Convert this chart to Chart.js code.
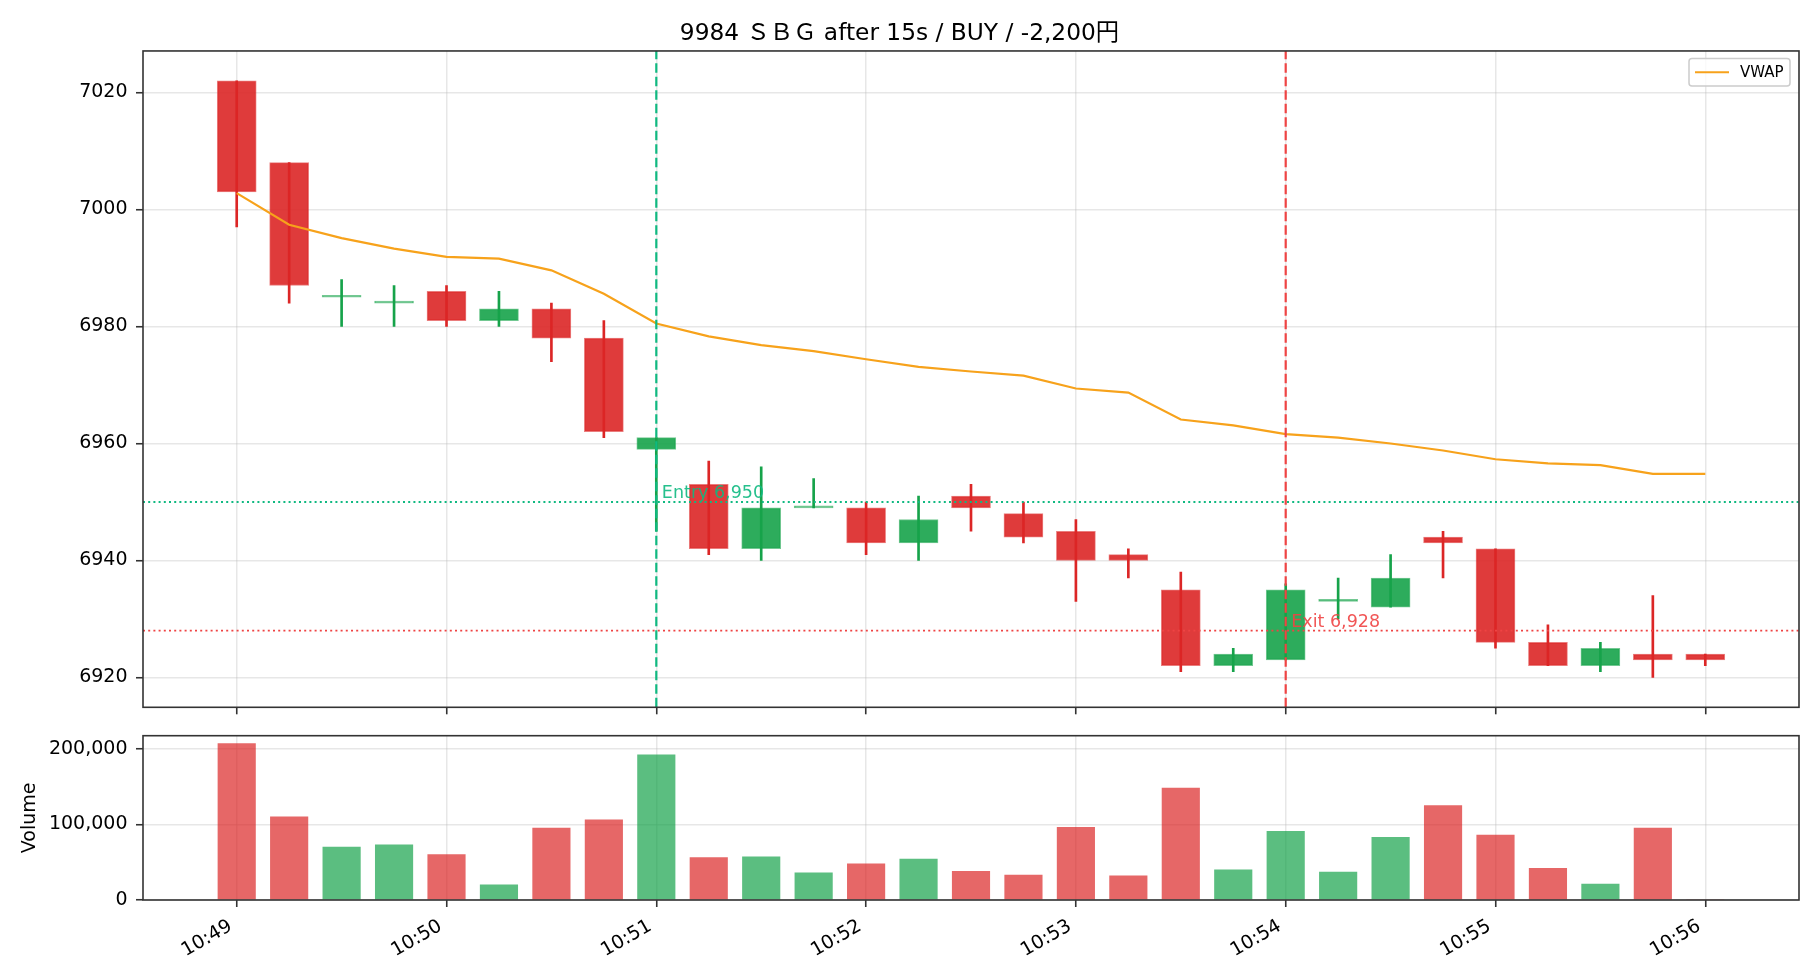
<!DOCTYPE html>
<html>
<head>
<meta charset="utf-8">
<script src="https://cdn.jsdelivr.net/npm/chart.js@4.4.1/dist/chart.umd.min.js"></script>
<style>
  html, body { margin: 0; padding: 0; background: #fff; }
  #wrap { position: relative; width: 1820px; height: 980px; }
  canvas { position: absolute; left: 0; top: 0; }
</style>
</head>
<body>
<div id="wrap">
  <canvas id="price" width="1820" height="980"></canvas>
  <canvas id="vol" width="1820" height="980"></canvas>
</div>
<script>
// 15 second candles
const times = ['10:49:00','10:49:15','10:49:30','10:49:45','10:50:00','10:50:15','10:50:30','10:50:45',
  '10:51:00','10:51:15','10:51:30','10:51:45','10:52:00','10:52:15','10:52:30','10:52:45',
  '10:53:00','10:53:15','10:53:30','10:53:45','10:54:00','10:54:15','10:54:30','10:54:45',
  '10:55:00','10:55:15','10:55:30','10:55:45','10:56:00'];
const opens  = [7022,7008,6985,6984,6986,6981,6983,6978,6959,6953,6942,6949,6949,6943,6951,6948,
  6945,6941,6935,6922,6923,6933,6932,6944,6942,6926,6922,6924,6924];
const highs  = [7022,7008,6988,6987,6987,6986,6984,6981,6961,6957,6956,6954,6950,6951,6953,6950,
  6947,6942,6938,6925,6936,6937,6941,6945,6942,6929,6926,6934,6924];
const lows   = [6997,6984,6980,6980,6980,6980,6974,6961,6945,6941,6940,6949,6941,6940,6945,6943,
  6933,6937,6921,6921,6923,6930,6932,6937,6925,6922,6921,6920,6922];
const closes = [7003,6987,6985,6984,6981,6983,6978,6962,6961,6942,6949,6949,6943,6947,6949,6944,
  6940,6940,6922,6924,6935,6933,6937,6943,6926,6922,6925,6923,6923];
const volumes = [207000,110000,70000,73000,60000,20000,95000,106000,192000,56000,57000,36000,48000,54000,
  38000,33000,96000,32000,148000,40000,91000,37000,83000,125000,86000,42000,21000,95000,0];
const vwap = [7002.8,6997.4,6995.1,6993.3,6991.9,6991.6,6989.6,6985.6,6980.5,6978.3,6976.8,6975.8,
  6974.4,6973.1,6972.3,6971.6,6969.4,6968.7,6964.1,6963.1,6961.6,6961.0,6960.0,6958.8,6957.3,
  6956.6,6956.3,6954.8,6954.8];

const tickLabels = ['10:49','10:50','10:51','10:52','10:53','10:54','10:55','10:56'];
const priceTicks = [6920, 6940, 6960, 6980, 7000, 7020];
const volumeTicks = [0, 100000, 200000];

const entry = { time: '10:51:00', price: 6950, label: ' Entry 6,950' };
const exit  = { time: '10:54:00', price: 6928, label: ' Exit 6,928' };
const titleText = '9984 ＳＢＧ after 15s / BUY / -2,200円';

const FONT = '"DejaVu Sans", "Noto Sans CJK JP", sans-serif';
const RED = '#dc2626', GREEN = '#16a34a', ORANGE = '#f7a21b';
const ENTRY_C = '#10b981', EXIT_C = '#ef4444';
const GRID = 'rgba(176,176,176,0.3)', SPINE = '#333333';

function toSec(s) {
  const p = s.split(':').map(Number);
  return p[0] * 3600 + p[1] * 60 + (p[2] || 0);
}
function alpha(hex, a) {
  const n = parseInt(hex.slice(1), 16);
  return `rgba(${n >> 16},${(n >> 8) & 255},${n & 255},${a})`;
}

const secs = times.map(toSec);
const tickSecs = tickLabels.map(toSec);
const up = closes.map((c, i) => c >= opens[i]);

// axis limits like matplotlib autoscale (5% margins)
const xMin = secs[0] - 26.8, xMax = secs[secs.length - 1] + 26.8;
const pLo = Math.min(...lows), pHi = Math.max(...highs);
const yMin = pLo - (pHi - pLo) * 0.05, yMax = pHi + (pHi - pLo) * 0.05;
const vMax = Math.max(...volumes) * 1.05;

Chart.defaults.font.family = FONT;
Chart.defaults.animation = false;
Chart.defaults.events = [];

const frame = {
  id: 'frame',
  afterDraw(chart) {
    const { ctx, chartArea: a } = chart;
    ctx.save();
    ctx.strokeStyle = SPINE;
    ctx.lineWidth = 1.6;
    ctx.strokeRect(a.left, a.top, a.right - a.left, a.bottom - a.top);
    ctx.restore();
  }
};

function xAxis(showLabels, height) {
  return {
    type: 'linear', min: xMin, max: xMax, offset: false,
    afterBuildTicks: s => { s.ticks = tickSecs.map(v => ({ value: v })); },
    afterFit: s => { s.height = height; },
    ticks: {
      display: showLabels, autoSkip: false, minRotation: 30, maxRotation: 30,
      padding: 8, labelOffset: -6, color: '#000', font: { size: 19 },
      callback: (v, i) => tickLabels[i]
    },
    grid: { offset: false, color: GRID, lineWidth: 1.5, tickColor: SPINE, tickWidth: 1.6, tickLength: 7 },
    border: { display: false }
  };
}

const markers = {
  id: 'markers',
  afterDatasetsDraw(chart) {
    const { ctx, scales: { x, y } } = chart;
    ctx.save();
    ctx.font = '17.5px ' + FONT;
    ctx.textBaseline = 'alphabetic';
    ctx.textAlign = 'left';
    [[entry, ENTRY_C], [exit, EXIT_C]].forEach(([m, c]) => {
      ctx.fillStyle = alpha(c, 0.9);
      ctx.fillText(m.label, x.getPixelForValue(toSec(m.time)), y.getPixelForValue(m.price) - 3.5);
    });
    // legend
    const a = chart.chartArea;
    const bx = a.right - 110, by = a.top + 7.6, bw = 101, bh = 27.4;
    ctx.beginPath();
    ctx.roundRect(bx, by, bw, bh, 3);
    ctx.fillStyle = 'rgba(255,255,255,0.8)';
    ctx.fill();
    ctx.strokeStyle = '#cccccc';
    ctx.lineWidth = 1.5;
    ctx.stroke();
    ctx.beginPath();
    ctx.moveTo(bx + 6, by + bh / 2);
    ctx.lineTo(bx + 40, by + bh / 2);
    ctx.strokeStyle = ORANGE;
    ctx.lineWidth = 2.2;
    ctx.stroke();
    ctx.fillStyle = '#000';
    ctx.font = '15px ' + FONT;
    ctx.textBaseline = 'middle';
    ctx.fillText('VWAP', bx + 51, by + bh / 2 + 0.5);
    ctx.restore();
  }
};

function refLine(points, color, width, dash) {
  return { type: 'line', data: points, borderColor: color, borderWidth: width, borderDash: dash,
    pointRadius: 0, fill: false, order: 0 };
}

new Chart(document.getElementById('price'), {
  type: 'bar',
  data: {
    datasets: [
      refLine([{ x: xMin, y: entry.price }, { x: xMax, y: entry.price }], ENTRY_C, 1.9, [2, 3.2]),
      refLine([{ x: xMin, y: exit.price }, { x: xMax, y: exit.price }], EXIT_C, 1.9, [2, 3.2]),
      refLine([{ x: toSec(entry.time), y: yMin }, { x: toSec(entry.time), y: yMax }], ENTRY_C, 2.2, [9.5, 4]),
      refLine([{ x: toSec(exit.time), y: yMin }, { x: toSec(exit.time), y: yMax }], EXIT_C, 2.2, [9.5, 4]),
      { label: 'VWAP', type: 'line', data: secs.map((t, i) => ({ x: t, y: vwap[i] })),
        borderColor: ORANGE, borderWidth: 2.2, pointRadius: 0, fill: false, order: 1 },
      { data: secs.map((t, i) => ({ x: t, y: [opens[i], closes[i]] })),
        backgroundColor: up.map(u => alpha(u ? GREEN : RED, 0.9)),
        borderColor: up.map(u => alpha(u ? GREEN : RED, 0.6)),
        borderWidth: 1, borderSkipped: false, barThickness: 39, minBarLength: 2, grouped: false, order: 2 },
      { data: secs.map((t, i) => ({ x: t, y: [lows[i], highs[i]] })),
        backgroundColor: up.map(u => u ? GREEN : RED),
        borderWidth: 0, barThickness: 2, grouped: false, order: 3 }
    ]
  },
  options: {
    responsive: false,
    layout: { padding: { left: 0, right: 21, top: 0, bottom: 262.7 } },
    plugins: {
      legend: { display: false }, tooltip: { enabled: false },
      title: { display: true, text: titleText, color: '#000', font: { size: 23.3, weight: 'normal' },
        padding: { top: 20, bottom: 3 } }
    },
    scales: {
      x: xAxis(false, 10),
      y: {
        min: yMin, max: yMax,
        afterBuildTicks: s => { s.ticks = priceTicks.map(v => ({ value: v })); },
        afterFit: s => { s.width = 143; },
        ticks: { color: '#000', font: { size: 19 }, padding: 8.5, callback: v => String(v) },
        grid: { color: GRID, lineWidth: 1.5, tickColor: SPINE, tickWidth: 1.6, tickLength: 7 },
        border: { display: false }
      }
    }
  },
  plugins: [frame, markers]
});

new Chart(document.getElementById('vol'), {
  type: 'bar',
  data: {
    datasets: [{
      data: secs.map((t, i) => ({ x: t, y: volumes[i] })),
      backgroundColor: up.map(u => alpha(u ? GREEN : RED, 0.7)),
      borderWidth: 0, barThickness: 37.5, grouped: false
    }]
  },
  options: {
    responsive: false,
    layout: { padding: { left: 0, right: 21, top: 735.7, bottom: 0 } },
    plugins: { legend: { display: false }, tooltip: { enabled: false } },
    scales: {
      x: xAxis(true, 80),
      y: {
        min: 0, max: vMax,
        afterBuildTicks: s => { s.ticks = volumeTicks.map(v => ({ value: v })); },
        afterFit: s => { s.width = 143; },
        title: { display: true, text: 'Volume', color: '#000', font: { size: 19 }, padding: { top: 19, bottom: 0 } },
        ticks: { color: '#000', font: { size: 19 }, padding: 8.5, callback: v => v.toLocaleString('en-US') },
        grid: { color: GRID, lineWidth: 1.5, tickColor: SPINE, tickWidth: 1.6, tickLength: 7 },
        border: { display: false }
      }
    }
  },
  plugins: [frame]
});
</script>
</body>
</html>
